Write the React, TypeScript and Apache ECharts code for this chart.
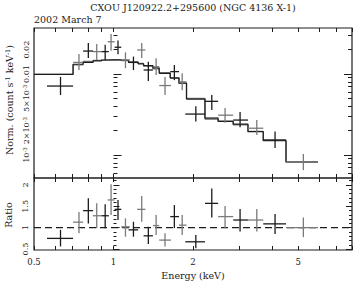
import React, { useEffect, useRef } from "react";
import * as echarts from "echarts";

// ---- data ----
const energyLo = [0.56, 0.703, 0.767, 0.835, 0.9, 0.95, 1.01, 1.07, 1.14, 1.23, 1.3, 1.41, 1.49, 1.64, 1.77, 1.87, 2.22, 2.49, 2.84, 3.23, 3.69, 4.5];
const energyHi = [0.703, 0.767, 0.837, 0.9, 0.96, 1.01, 1.07, 1.155, 1.24, 1.32, 1.41, 1.49, 1.65, 1.77, 1.89, 2.22, 2.49, 2.84, 3.23, 3.69, 4.5, 5.95];
const energyMid = [0.63, 0.74, 0.803, 0.864, 0.93, 0.979, 1.04, 1.11, 1.19, 1.279, 1.355, 1.45, 1.567, 1.7, 1.82, 2.05, 2.356, 2.645, 3.015, 3.488, 4.09, 5.235];
const flux = [0.0071, 0.0139, 0.0192, 0.0189, 0.0189, 0.025, 0.0214, 0.0149, 0.0139, 0.0198, 0.0112, 0.0123, 0.0072, 0.0107, 0.008, 0.0032, 0.0046, 0.0031, 0.0027, 0.00214, 0.00153, 0.00082];
const fluxLo = [0.0055, 0.0112, 0.0158, 0.0149, 0.0149, 0.0194, 0.0175, 0.0118, 0.0112, 0.0158, 0.0082, 0.0097, 0.0055, 0.0084, 0.0063, 0.0026, 0.0036, 0.0025, 0.0022, 0.00177, 0.00122, 0.00065];
const fluxHi = [0.0092, 0.0177, 0.0241, 0.0235, 0.023, 0.0312, 0.026, 0.0185, 0.0164, 0.0241, 0.0142, 0.0156, 0.0092, 0.0129, 0.0102, 0.004, 0.0055, 0.0038, 0.0034, 0.0027, 0.00195, 0.00103];
const ratio = [0.75, 1.13, 1.4, 1.28, 1.28, 1.65, 1.43, 1.02, 0.95, 1.43, 0.81, 1.05, 0.71, 1.26, 1.06, 0.67, 1.57, 1.26, 1.18, 1.18, 1.09, 1.0];
const ratioLo = [0.56, 0.87, 1.1, 0.99, 0.99, 1.3, 1.18, 0.79, 0.79, 1.14, 0.62, 0.83, 0.56, 0.99, 0.83, 0.52, 1.24, 0.99, 0.91, 0.91, 0.85, 0.78];
const ratioHi = [0.95, 1.37, 1.69, 1.57, 1.55, 2.02, 1.65, 1.22, 1.14, 1.74, 1.02, 1.3, 0.87, 1.53, 1.3, 0.83, 1.92, 1.51, 1.44, 1.44, 1.32, 1.24];
const pointGroup = [0, 1, 0, 1, 0, 1, 0, 1, 0, 1, 0, 1, 1, 0, 1, 0, 0, 1, 0, 1, 0, 1];

const modelEdges = [0.5, 0.703, 0.767, 0.837, 0.9, 0.96, 1.01, 1.07, 1.14, 1.24, 1.3, 1.41, 1.49, 1.64, 1.77, 1.89, 2.22, 2.49, 2.84, 3.23, 3.69, 4.5, 5.95];
const modelBlack = [0.0099, 0.0132, 0.0139, 0.0145, 0.0149, 0.015, 0.0149, 0.0147, 0.0139, 0.0133, 0.0127, 0.0119, 0.0102, 0.0089, 0.0077, 0.0049, 0.0028, 0.0026, 0.0024, 0.00194, 0.0015, 0.00082];
const modelGrey = [0.0099, 0.013, 0.0143, 0.0147, 0.0149, 0.015, 0.015, 0.0146, 0.0141, 0.0135, 0.0125, 0.0116, 0.0104, 0.009, 0.0077, 0.005, 0.0029, 0.00262, 0.00236, 0.00196, 0.00152, 0.00082];

const xTickValues = [0.5, 0.6, 0.7, 0.8, 0.9, 1, 2, 3, 4, 5, 6, 7, 8];
const xLabelValues = [0.5, 1, 2, 5];
const yTopMinorTicks = [0.0006, 0.0007, 0.0008, 0.0009, 0.002, 0.003, 0.004, 0.005, 0.006, 0.007, 0.008, 0.009, 0.02, 0.03];
const yTopMajorTicks = [0.001, 0.01];
const yTopLabels = [0.001, 0.002, 0.005, 0.01, 0.02];
const yTopLabelText = ["10{s|-3}", "2×10{s|-3}", "5×10{s|-3}", "0.01", "0.02"];
const ratioMinorTicks = [0.6, 0.7, 0.8, 0.9, 1.1, 1.2, 1.3, 1.4, 1.6, 1.7, 1.8, 1.9, 2.1];
const ratioMajorTicks = [0.5, 1, 1.5, 2];
const ratioLabels = ["0.5", "1", "1.5", "2"];

const L = (v: number) => Math.log10(v);
const FONT = "DejaVu Serif";
const INK = "#1c1c1c";
const GREY = "#7a7a7a";

const X_MIN = L(0.5), X_MAX = L(8);
const Y_MIN = -3.284, Y_MAX = -1.432;
const R_MIN = 0.478, R_MAX = 2.164;

function xAxisDef(grid: number, pos: string, labels: boolean) {
  return {
    type: "value", gridIndex: grid, position: pos, min: X_MIN, max: X_MAX,
    axisLine: { show: false }, splitLine: { show: false },
    axisTick: { show: true, inside: true, length: 4, customValues: xTickValues.map(L), lineStyle: { color: INK, width: 1 } },
    axisLabel: labels
      ? {
          show: true, customValues: xLabelValues.map(L), margin: 7, fontFamily: FONT, fontSize: 8.5, color: INK,
          formatter: (v: number) => String(Number(Math.pow(10, v).toPrecision(3))),
        }
      : { show: false },
  };
}

function yAxisDef(grid: number, pos: string, min: number, max: number, ticks: number[], len: number, label?: any) {
  return {
    type: "value", gridIndex: grid, position: pos, min, max,
    axisLine: { show: false }, splitLine: { show: false },
    axisTick: { show: true, inside: true, length: len, customValues: ticks, lineStyle: { color: INK, width: 1 } },
    axisLabel: label || { show: false },
  };
}

function crossSeries(xi: number, yi: number, rows: number[][], color: string) {
  return {
    type: "custom", xAxisIndex: xi, yAxisIndex: yi, clip: true, z: 5,
    data: rows,
    renderItem: (_p: any, api: any) => {
      const y = api.value(3);
      const a = api.coord([api.value(0), y]);
      const b = api.coord([api.value(1), y]);
      const c = api.coord([api.value(2), api.value(4)]);
      const d = api.coord([api.value(2), api.value(5)]);
      const st = { stroke: color, lineWidth: 1.3 };
      return {
        type: "group",
        children: [
          { type: "line", shape: { x1: a[0], y1: a[1], x2: b[0], y2: b[1] }, style: st },
          { type: "line", shape: { x1: c[0], y1: c[1], x2: d[0], y2: d[1] }, style: st },
        ],
      };
    },
  };
}

function stepPoints(vals: number[]) {
  const pts: number[][] = [];
  vals.forEach((v, i) => {
    pts.push([L(modelEdges[i]), L(v)]);
    pts.push([L(modelEdges[i + 1]), L(v)]);
  });
  return pts;
}

export default function App() {
  const ref = useRef<HTMLDivElement>(null);
  useEffect(() => {
    if (!ref.current) return;
    const chart = echarts.init(ref.current, null, { renderer: "svg" });

    const topRows = (g: number) =>
      flux.map((f, i) => [L(energyLo[i]), L(energyHi[i]), L(energyMid[i]), L(f), L(fluxLo[i]), L(fluxHi[i]), i])
        .filter((_r, i) => pointGroup[i] === g);
    const botRows = (g: number) =>
      ratio.map((r, i) => [L(energyLo[i]), L(energyHi[i]), L(energyMid[i]), r, ratioLo[i], ratioHi[i], i])
        .filter((_r, i) => pointGroup[i] === g);

    const topLabel = {
      show: true, rotate: 90, margin: 4, fontFamily: FONT, fontSize: 8, color: INK,
      customValues: yTopLabels.map(L),
      formatter: (v: number) => {
        let best = 0;
        yTopLabels.forEach((t, i) => { if (Math.abs(L(t) - v) < Math.abs(L(yTopLabels[best]) - v)) best = i; });
        return yTopLabelText[best];
      },
      rich: { s: { fontFamily: FONT, fontSize: 5.5, verticalAlign: "top", color: INK } },
    };
    const ratioLabel = {
      show: true, rotate: 90, margin: 5, fontFamily: FONT, fontSize: 8, color: INK,
      customValues: ratioMajorTicks,
      formatter: (v: number) => {
        let best = 0;
        ratioMajorTicks.forEach((t, i) => { if (Math.abs(t - v) < Math.abs(ratioMajorTicks[best] - v)) best = i; });
        return ratioLabels[best];
      },
    };

    chart.setOption({
      animation: false,
      backgroundColor: "#ffffff",
      grid: [
        { left: 34, top: 28, width: 318, height: 150, show: true, borderColor: INK, borderWidth: 1.2, backgroundColor: "transparent" },
        { left: 34, top: 178, width: 318, height: 72, show: true, borderColor: INK, borderWidth: 1.2, backgroundColor: "transparent" },
      ],
      xAxis: [
        xAxisDef(0, "bottom", false),
        xAxisDef(0, "top", false),
        xAxisDef(1, "bottom", true),
        xAxisDef(1, "top", false),
      ],
      yAxis: [
        yAxisDef(0, "left", Y_MIN, Y_MAX, yTopMinorTicks.map(L), 4, topLabel),
        yAxisDef(0, "left", Y_MIN, Y_MAX, yTopMajorTicks.map(L), 8),
        yAxisDef(0, "right", Y_MIN, Y_MAX, yTopMinorTicks.map(L), 4),
        yAxisDef(0, "right", Y_MIN, Y_MAX, yTopMajorTicks.map(L), 8),
        yAxisDef(1, "left", R_MIN, R_MAX, ratioMinorTicks, 3, ratioLabel),
        yAxisDef(1, "left", R_MIN, R_MAX, ratioMajorTicks, 6),
        yAxisDef(1, "right", R_MIN, R_MAX, ratioMinorTicks, 3),
        yAxisDef(1, "right", R_MIN, R_MAX, ratioMajorTicks, 6),
      ],
      series: [
        {
          type: "line", xAxisIndex: 0, yAxisIndex: 0, data: stepPoints(modelGrey), symbol: "none", showSymbol: false,
          lineStyle: { color: GREY, width: 1.3 }, z: 3, clip: true,
        },
        {
          type: "line", xAxisIndex: 0, yAxisIndex: 0, data: stepPoints(modelBlack), symbol: "none", showSymbol: false,
          lineStyle: { color: INK, width: 1.2 }, z: 4, clip: true,
        },
        crossSeries(0, 0, topRows(1), GREY),
        crossSeries(0, 0, topRows(0), INK),
        {
          type: "line", xAxisIndex: 2, yAxisIndex: 4, data: [[X_MIN, 1], [X_MAX, 1]], symbol: "none", showSymbol: false,
          lineStyle: { color: INK, width: 1.3, type: [7, 4] }, z: 3,
        },
        crossSeries(2, 4, botRows(1), GREY),
        crossSeries(2, 4, botRows(0), INK),
      ],
      graphic: [
        { type: "text", x: 193, y: 7, style: { text: "CXOU J120922.2+295600 (NGC 4136 X-1)", fontFamily: FONT, fontSize: 9.5, fill: INK, align: "center", verticalAlign: "middle" } },
        { type: "text", x: 34, y: 19, style: { text: "2002 March 7", fontFamily: FONT, fontSize: 9.5, fill: INK, align: "left", verticalAlign: "middle" } },
        { type: "text", x: 193, y: 275, style: { text: "Energy (keV)", fontFamily: FONT, fontSize: 9.5, fill: INK, align: "center", verticalAlign: "middle" } },
        {
          type: "text", x: 9, y: 100, rotation: Math.PI / 2,
          style: {
            text: "Norm. (count s{s|-1} keV{s|-1})", fontFamily: FONT, fontSize: 9.5, fill: INK, align: "center", verticalAlign: "middle",
            rich: { s: { fontFamily: FONT, fontSize: 6.5, verticalAlign: "top", fill: INK } },
          },
        },
        { type: "text", x: 8, y: 215, rotation: Math.PI / 2, style: { text: "Ratio", fontFamily: FONT, fontSize: 9.5, fill: INK, align: "center", verticalAlign: "middle" } },
      ],
    });
    return () => chart.dispose();
  }, []);
  return <div ref={ref} style={{ position: "fixed", left: 0, top: 0, width: 354, height: 281 }} />;
}
